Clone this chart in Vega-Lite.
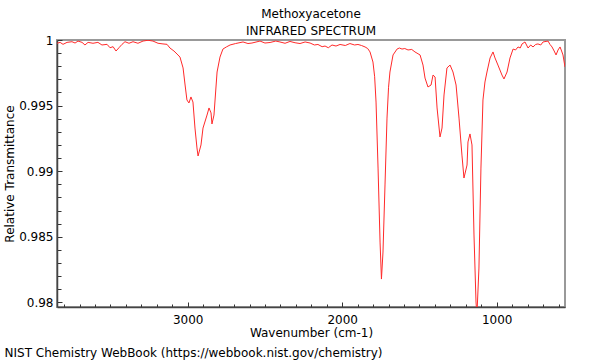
{
  "$schema": "https://vega.github.io/schema/vega-lite/v6.json",
  "width": 508,
  "height": 267,
  "autosize": {"type": "none"},
  "padding": {"left": 57, "top": 40, "right": 35, "bottom": 53},
  "background": "white",
  "config": {
    "font": "DejaVu Sans",
    "view": {"stroke": "#999999", "strokeWidth": 2},
    "axis": {
      "grid": false,
      "domainColor": "#444444",
      "domainWidth": 1.5,
      "tickColor": "#333333",
      "tickWidth": 1,
      "labelColor": "#000000",
      "labelFontSize": 12,
      "titleColor": "#000000",
      "titleFontSize": 12,
      "titleFontWeight": "normal"
    }
  },
  "title": {
    "text": ["Methoxyacetone", "INFRARED SPECTRUM"],
    "fontSize": 12,
    "fontWeight": "normal",
    "anchor": "middle",
    "offset": 4,
    "dy": 8,
    "lineHeight": 17,
    "color": "#000000"
  },
  "data": {
    "values": [
      {"wavenumber": 3846, "transmittance": 0.99975},
      {"wavenumber": 3826, "transmittance": 0.99982},
      {"wavenumber": 3807, "transmittance": 0.99967},
      {"wavenumber": 3781, "transmittance": 0.99982},
      {"wavenumber": 3749, "transmittance": 0.99987},
      {"wavenumber": 3729, "transmittance": 0.99977},
      {"wavenumber": 3710, "transmittance": 0.99992},
      {"wavenumber": 3684, "transmittance": 0.99982},
      {"wavenumber": 3665, "transmittance": 0.99962},
      {"wavenumber": 3645, "transmittance": 0.99982},
      {"wavenumber": 3613, "transmittance": 0.99975},
      {"wavenumber": 3581, "transmittance": 0.99982},
      {"wavenumber": 3555, "transmittance": 0.99962},
      {"wavenumber": 3522, "transmittance": 0.99967},
      {"wavenumber": 3503, "transmittance": 0.99941},
      {"wavenumber": 3483, "transmittance": 0.99949},
      {"wavenumber": 3464, "transmittance": 0.99916},
      {"wavenumber": 3445, "transmittance": 0.99941},
      {"wavenumber": 3425, "transmittance": 0.99967},
      {"wavenumber": 3406, "transmittance": 0.99987},
      {"wavenumber": 3380, "transmittance": 0.99975},
      {"wavenumber": 3354, "transmittance": 0.99987},
      {"wavenumber": 3322, "transmittance": 0.99975},
      {"wavenumber": 3289, "transmittance": 0.99992},
      {"wavenumber": 3257, "transmittance": 0.99998},
      {"wavenumber": 3225, "transmittance": 0.99992},
      {"wavenumber": 3192, "transmittance": 0.99975},
      {"wavenumber": 3160, "transmittance": 0.9997},
      {"wavenumber": 3134, "transmittance": 0.99967},
      {"wavenumber": 3115, "transmittance": 0.99939},
      {"wavenumber": 3089, "transmittance": 0.99916},
      {"wavenumber": 3069, "transmittance": 0.99893},
      {"wavenumber": 3050, "transmittance": 0.9987},
      {"wavenumber": 3030, "transmittance": 0.99787},
      {"wavenumber": 3017, "transmittance": 0.99657},
      {"wavenumber": 3005, "transmittance": 0.99543},
      {"wavenumber": 2992, "transmittance": 0.9952},
      {"wavenumber": 2979, "transmittance": 0.99566},
      {"wavenumber": 2966, "transmittance": 0.99527},
      {"wavenumber": 2953, "transmittance": 0.99329},
      {"wavenumber": 2940, "transmittance": 0.99177},
      {"wavenumber": 2933, "transmittance": 0.99116},
      {"wavenumber": 2914, "transmittance": 0.992},
      {"wavenumber": 2901, "transmittance": 0.99329},
      {"wavenumber": 2875, "transmittance": 0.99428},
      {"wavenumber": 2862, "transmittance": 0.99482},
      {"wavenumber": 2849, "transmittance": 0.99444},
      {"wavenumber": 2843, "transmittance": 0.9936},
      {"wavenumber": 2830, "transmittance": 0.99428},
      {"wavenumber": 2810, "transmittance": 0.99756},
      {"wavenumber": 2791, "transmittance": 0.9987},
      {"wavenumber": 2772, "transmittance": 0.99931},
      {"wavenumber": 2750, "transmittance": 0.99947},
      {"wavenumber": 2726, "transmittance": 0.99962},
      {"wavenumber": 2690, "transmittance": 0.99973},
      {"wavenumber": 2642, "transmittance": 0.99985},
      {"wavenumber": 2610, "transmittance": 0.99973},
      {"wavenumber": 2584, "transmittance": 0.99977},
      {"wavenumber": 2532, "transmittance": 0.99992},
      {"wavenumber": 2500, "transmittance": 0.99977},
      {"wavenumber": 2467, "transmittance": 0.99981},
      {"wavenumber": 2430, "transmittance": 0.99992},
      {"wavenumber": 2403, "transmittance": 0.99985},
      {"wavenumber": 2370, "transmittance": 0.99975},
      {"wavenumber": 2338, "transmittance": 0.99989},
      {"wavenumber": 2305, "transmittance": 0.99979},
      {"wavenumber": 2273, "transmittance": 0.99973},
      {"wavenumber": 2240, "transmittance": 0.99985},
      {"wavenumber": 2208, "transmittance": 0.99977},
      {"wavenumber": 2180, "transmittance": 0.99962},
      {"wavenumber": 2157, "transmittance": 0.99966},
      {"wavenumber": 2130, "transmittance": 0.99949},
      {"wavenumber": 2111, "transmittance": 0.99954},
      {"wavenumber": 2090, "transmittance": 0.99941},
      {"wavenumber": 2066, "transmittance": 0.99962},
      {"wavenumber": 2040, "transmittance": 0.99954},
      {"wavenumber": 2014, "transmittance": 0.99966},
      {"wavenumber": 1980, "transmittance": 0.99958},
      {"wavenumber": 1950, "transmittance": 0.99973},
      {"wavenumber": 1920, "transmittance": 0.99962},
      {"wavenumber": 1898, "transmittance": 0.99966},
      {"wavenumber": 1875, "transmittance": 0.99958},
      {"wavenumber": 1852, "transmittance": 0.99947},
      {"wavenumber": 1835, "transmittance": 0.99935},
      {"wavenumber": 1820, "transmittance": 0.99909},
      {"wavenumber": 1801, "transmittance": 0.99832},
      {"wavenumber": 1790, "transmittance": 0.9972},
      {"wavenumber": 1781, "transmittance": 0.99527},
      {"wavenumber": 1768, "transmittance": 0.99024},
      {"wavenumber": 1755, "transmittance": 0.9846},
      {"wavenumber": 1746, "transmittance": 0.98178},
      {"wavenumber": 1736, "transmittance": 0.98384},
      {"wavenumber": 1723, "transmittance": 0.98895},
      {"wavenumber": 1710, "transmittance": 0.99405},
      {"wavenumber": 1700, "transmittance": 0.9964},
      {"wavenumber": 1691, "transmittance": 0.99756},
      {"wavenumber": 1671, "transmittance": 0.99886},
      {"wavenumber": 1645, "transmittance": 0.99931},
      {"wavenumber": 1630, "transmittance": 0.99939},
      {"wavenumber": 1613, "transmittance": 0.99931},
      {"wavenumber": 1595, "transmittance": 0.99935},
      {"wavenumber": 1574, "transmittance": 0.99924},
      {"wavenumber": 1550, "transmittance": 0.99928},
      {"wavenumber": 1529, "transmittance": 0.99909},
      {"wavenumber": 1496, "transmittance": 0.99886},
      {"wavenumber": 1477, "transmittance": 0.99809},
      {"wavenumber": 1464, "transmittance": 0.9971},
      {"wavenumber": 1445, "transmittance": 0.99642},
      {"wavenumber": 1425, "transmittance": 0.99657},
      {"wavenumber": 1412, "transmittance": 0.99733},
      {"wavenumber": 1399, "transmittance": 0.99718},
      {"wavenumber": 1386, "transmittance": 0.99482},
      {"wavenumber": 1367, "transmittance": 0.99261},
      {"wavenumber": 1354, "transmittance": 0.99329},
      {"wavenumber": 1341, "transmittance": 0.99581},
      {"wavenumber": 1322, "transmittance": 0.99787},
      {"wavenumber": 1302, "transmittance": 0.99809},
      {"wavenumber": 1283, "transmittance": 0.99756},
      {"wavenumber": 1263, "transmittance": 0.99657},
      {"wavenumber": 1244, "transmittance": 0.99405},
      {"wavenumber": 1225, "transmittance": 0.99123},
      {"wavenumber": 1212, "transmittance": 0.98948},
      {"wavenumber": 1192, "transmittance": 0.99047},
      {"wavenumber": 1186, "transmittance": 0.99223},
      {"wavenumber": 1173, "transmittance": 0.99284},
      {"wavenumber": 1160, "transmittance": 0.992},
      {"wavenumber": 1147, "transmittance": 0.98514},
      {"wavenumber": 1134, "transmittance": 0.98003},
      {"wavenumber": 1128, "transmittance": 0.97904},
      {"wavenumber": 1115, "transmittance": 0.98262},
      {"wavenumber": 1102, "transmittance": 0.99024},
      {"wavenumber": 1089, "transmittance": 0.99543},
      {"wavenumber": 1076, "transmittance": 0.9968},
      {"wavenumber": 1063, "transmittance": 0.99756},
      {"wavenumber": 1043, "transmittance": 0.99863},
      {"wavenumber": 1024, "transmittance": 0.99909},
      {"wavenumber": 1011, "transmittance": 0.99863},
      {"wavenumber": 992, "transmittance": 0.99809},
      {"wavenumber": 966, "transmittance": 0.99733},
      {"wavenumber": 953, "transmittance": 0.99703},
      {"wavenumber": 933, "transmittance": 0.99756},
      {"wavenumber": 914, "transmittance": 0.99863},
      {"wavenumber": 894, "transmittance": 0.99931},
      {"wavenumber": 878, "transmittance": 0.99924},
      {"wavenumber": 862, "transmittance": 0.99947},
      {"wavenumber": 848, "transmittance": 0.99939},
      {"wavenumber": 836, "transmittance": 0.9997},
      {"wavenumber": 817, "transmittance": 0.99985},
      {"wavenumber": 797, "transmittance": 0.99939},
      {"wavenumber": 780, "transmittance": 0.99962},
      {"wavenumber": 765, "transmittance": 0.99947},
      {"wavenumber": 748, "transmittance": 0.99966},
      {"wavenumber": 733, "transmittance": 0.9997},
      {"wavenumber": 715, "transmittance": 0.99962},
      {"wavenumber": 700, "transmittance": 0.99985},
      {"wavenumber": 668, "transmittance": 0.99992},
      {"wavenumber": 655, "transmittance": 0.99966},
      {"wavenumber": 642, "transmittance": 0.99947},
      {"wavenumber": 628, "transmittance": 0.99916},
      {"wavenumber": 616, "transmittance": 0.99886},
      {"wavenumber": 603, "transmittance": 0.99924},
      {"wavenumber": 590, "transmittance": 0.99947},
      {"wavenumber": 580, "transmittance": 0.99916},
      {"wavenumber": 571, "transmittance": 0.99886},
      {"wavenumber": 558, "transmittance": 0.99794}
    ]
  },
  "layer": [
    {
      "mark": {"type": "line", "color": "#ff2a2a", "strokeWidth": 1, "clip": true},
      "encoding": {
        "x": {
          "field": "wavenumber",
          "type": "quantitative",
          "scale": {"domain": [558, 3846], "reverse": true, "nice": false, "zero": false},
          "axis": {
            "orient": "bottom",
            "values": [600, 700, 800, 900, 1000, 1100, 1200, 1300, 1400, 1500, 1600, 1700, 1800, 1900, 2000, 2100, 2200, 2300, 2400, 2500, 2600, 2700, 2800, 2900, 3000, 3100, 3200, 3300, 3400, 3500, 3600, 3700, 3800],
            "format": "d",
            "labelExpr": "datum.value % 1000 === 0 ? datum.label : ''",
            "labelOverlap": false,
            "tickSize": {"condition": {"test": "datum.value % 1000 === 0", "value": -5}, "value": -3},
            "labelPadding": 12,
            "title": "Wavenumber (cm-1)",
            "titleY": 25.5,
            "titleBaseline": "middle"
          }
        },
        "y": {
          "field": "transmittance",
          "type": "quantitative",
          "scale": {"domain": [0.97965, 1.0], "nice": false, "zero": false},
          "axis": {
            "orient": "left",
            "values": [0.98, 0.981, 0.982, 0.983, 0.984, 0.985, 0.986, 0.987, 0.988, 0.989, 0.99, 0.991, 0.992, 0.993, 0.994, 0.995, 0.996, 0.997, 0.998, 0.999, 1],
            "format": "~g",
            "labelExpr": "round(datum.value * 1000) % 5 === 0 ? datum.label : ''",
            "labelOverlap": false,
            "tickSize": {"condition": {"test": "round(datum.value * 1000) % 5 === 0", "value": -5}, "value": -4},
            "labelPadding": 9,
            "title": "Relative Transmittance",
            "titleX": -48,
            "titleY": 133.5,
            "titleBaseline": "middle"
          }
        }
      }
    },
    {
      "mark": {"type": "line", "opacity": 0},
      "encoding": {
        "x": {
          "field": "wavenumber",
          "type": "quantitative",
          "scale": {"domain": [558, 3846], "reverse": true, "nice": false, "zero": false},
          "axis": {
            "orient": "bottom",
            "values": [],
            "labels": false,
            "domain": false,
            "ticks": false,
            "title": "NIST Chemistry WebBook (https://webbook.nist.gov/chemistry)",
            "titleAnchor": "start",
            "titleAlign": "left",
            "titleX": -53,
            "titleY": 49.5,
            "titleBaseline": "alphabetic"
          }
        },
        "y": {
          "field": "transmittance",
          "type": "quantitative",
          "scale": {"domain": [0.97965, 1.0], "nice": false, "zero": false},
          "axis": null
        }
      }
    }
  ],
  "resolve": {"axis": {"x": "independent", "y": "independent"}}
}
